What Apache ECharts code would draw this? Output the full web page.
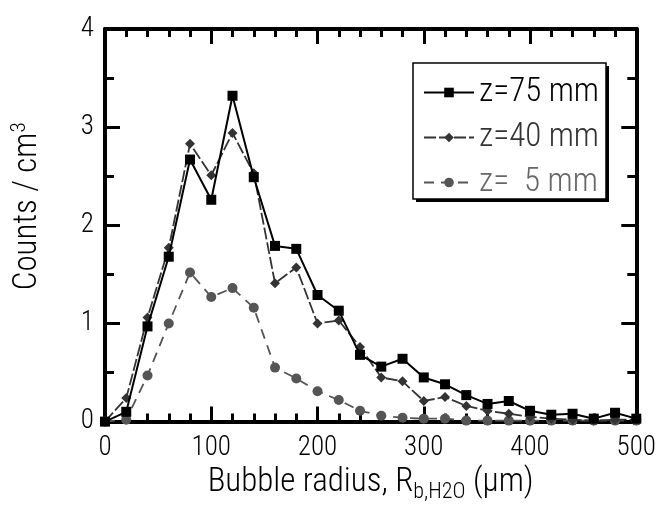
<!DOCTYPE html>
<html>
<head>
<meta charset="utf-8">
<script src="https://cdn.jsdelivr.net/npm/echarts@6/dist/echarts.min.js"></script>
<style>html,body{margin:0;padding:0;background:#fff}#c{width:659px;height:508px}</style>
</head>
<body>
<div id="c"></div>
<script>
var radius = [0,20,40,60,80,100,120,140,160,180,200,220,240,260,280,300,320,340,360,380,400,420,440,460,480,500];
var z75 = [0,0.10,0.97,1.68,2.67,2.26,3.32,2.49,1.79,1.76,1.29,1.13,0.68,0.56,0.64,0.45,0.38,0.27,0.18,0.21,0.11,0.07,0.08,0.03,0.09,0.03];
var z40 = [0,0.24,1.06,1.77,2.83,2.51,2.94,2.53,1.41,1.57,1.00,1.03,0.76,0.45,0.41,0.21,0.25,0.16,0.11,0.08,0.05,0.03,0.02,0.01,0.02,0.02];
var z5  = [0,0.02,0.47,1.00,1.52,1.27,1.36,1.16,0.55,0.44,0.31,0.22,0.11,0.06,0.04,0.03,0.03,0.01,0.01,0.01,0.01,0.01,0.01,0.01,0.01,0.01];
var seriesNames = ['z=75 mm','z=40 mm','z=  5 mm'];
var xTicks = [0,100,200,300,400,500];
var yTicks = [0,1,2,3,4];

var FONT = "'Roboto Condensed','Liberation Sans Narrow','DejaVu Sans Condensed',sans-serif";
var FW = 300;
function pairs(ys){ return radius.map(function(x,i){return [x, ys[i]];}); }

var chart = echarts.init(document.getElementById('c'));
var axisX = function(pos, showLabel){ return {
  type:'value', position:pos, min:0, max:500, interval:100,
  axisLine:{show:true, onZero:false, lineStyle:{color:'#000', width:4}},
  axisTick:{show:true, inside:true, length:15, lineStyle:{color:'#000', width:3}},
  minorTick:{show:true, splitNumber:5, length:8, lineStyle:{color:'#000', width:3}},
  splitLine:{show:false},
  axisLabel:{show:showLabel, color:'#000', fontSize:27, fontWeight:FW, fontFamily:FONT, margin:13,
    formatter:function(v){return xTicks.indexOf(v)>=0? String(v):'';}}
};};
var axisY = function(pos, showLabel){ return {
  type:'value', position:pos, min:0, max:4, interval:1,
  axisLine:{show:true, onZero:false, lineStyle:{color:'#000', width:4}},
  axisTick:{show:true, inside:true, length:15, lineStyle:{color:'#000', width:3}},
  minorTick:{show:true, splitNumber:2, length:9, lineStyle:{color:'#000', width:3}},
  splitLine:{show:false},
  axisLabel:{show:showLabel, color:'#000', fontSize:27, fontWeight:FW, fontFamily:FONT, margin:11,
    formatter:function(v){return yTicks.indexOf(v)>=0? String(v):'';}}
};};
var xb = axisX('bottom', true);
xb.name = '{n|Bubble radius, R}{s|b,H2O}{n| (\u03bcm)}';
xb.nameLocation = 'middle';
xb.nameGap = 36;
xb.nameTextStyle = {rich:{n:{fontSize:33, fontWeight:FW, fontFamily:FONT, color:'#000'}, s:{fontSize:22, fontWeight:FW, fontFamily:FONT, color:'#000', verticalAlign:'bottom', padding:[18,0,0,0]}}};
var yl = axisY('left', true);
yl.name = '{n|Counts / cm}{p|3}';
yl.nameLocation = 'middle';
yl.nameGap = 59;
yl.nameTextStyle = {padding:[0,0,0,38], rich:{n:{fontSize:33, fontWeight:FW, fontFamily:FONT, color:'#000'}, p:{fontSize:21, fontWeight:FW, fontFamily:FONT, color:'#000', verticalAlign:'top', padding:[0,0,16,0]}}};

chart.setOption({
  animation:false,
  backgroundColor:'#fff',
  grid:{left:105, right:21, top:29, bottom:83},
  xAxis:[xb, axisX('top', false)],
  yAxis:[yl, axisY('right', false)],
  graphic:[
    {type:'rect', z:3, shape:{x:416, y:66, width:193, height:136}, style:{fill:'#000'}},
    {type:'rect', z:3, shape:{x:413, y:63, width:193, height:136}, style:{fill:'#fff', stroke:'#000', lineWidth:1.5}}
  ],
  legend:{
    orient:'vertical', left:423, top:76, z:5,
    padding:0, itemGap:12, itemWidth:50, itemHeight:12,
    textStyle:{fontSize:33, fontWeight:FW, fontFamily:FONT, lineHeight:28},
    data:[
      {name:seriesNames[0], textStyle:{color:'#000'}},
      {name:seriesNames[1], textStyle:{color:'#333'}},
      {name:seriesNames[2], textStyle:{color:'#666'}}
    ]
  },
  series:[
    {name:seriesNames[2], type:'line', data:pairs(z5), symbol:'circle', symbolSize:10, z:2,
      itemStyle:{color:'#555'}, lineStyle:{color:'#555', width:1.8, type:[10,7]}},
    {name:seriesNames[1], type:'line', data:pairs(z40), symbol:'diamond', symbolSize:[10,10], z:3,
      itemStyle:{color:'#333'}, lineStyle:{color:'#333', width:1.8, type:[12,3]}},
    {name:seriesNames[0], type:'line', data:pairs(z75), symbol:'rect', symbolSize:10, z:4,
      itemStyle:{color:'#000'}, lineStyle:{color:'#000', width:2}}
  ]
});
</script>
</body>
</html>
